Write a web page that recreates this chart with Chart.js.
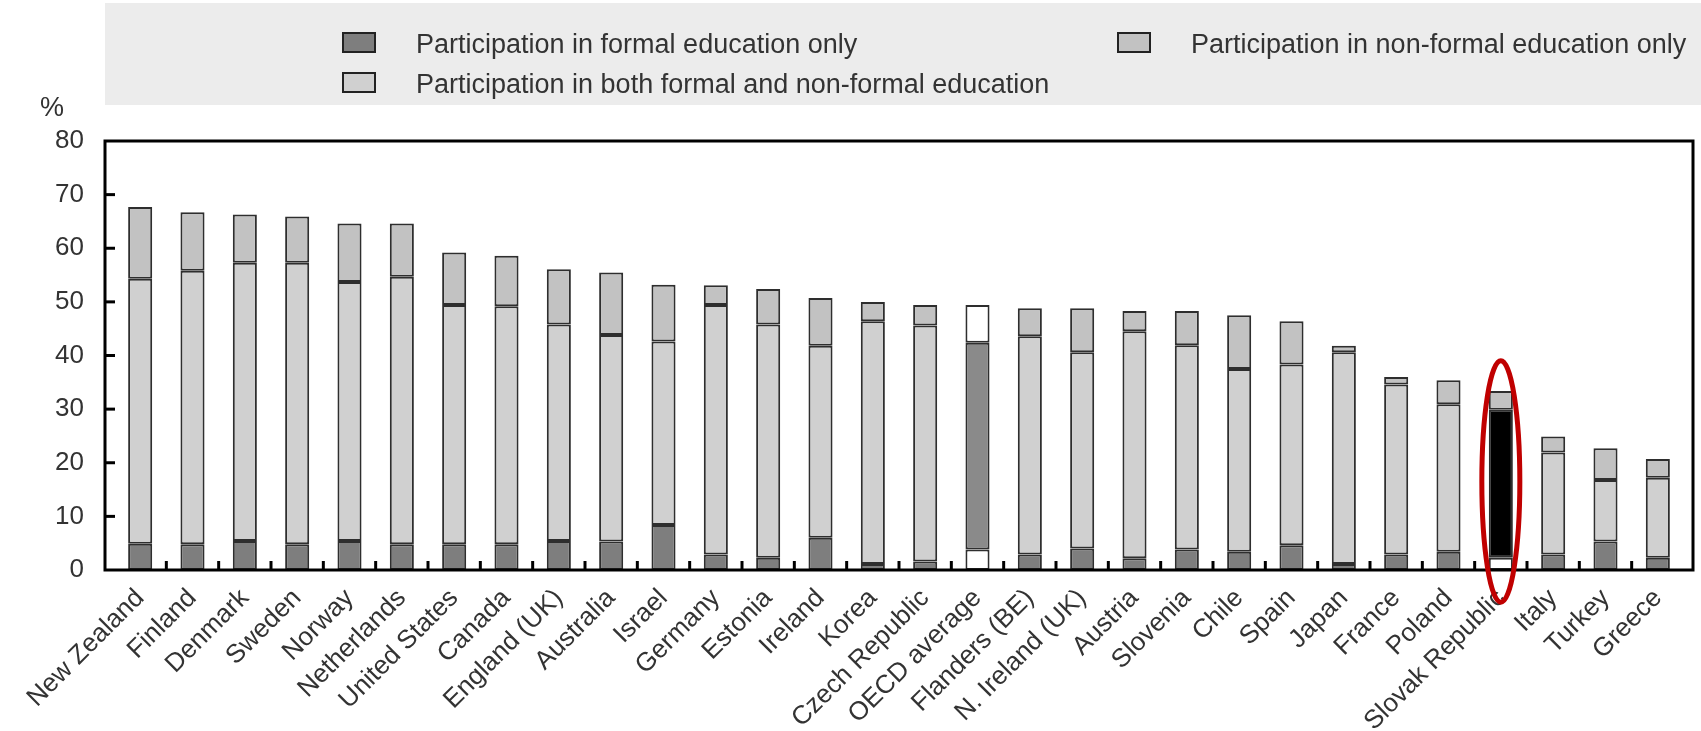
<!DOCTYPE html>
<html><head><meta charset="utf-8">
<script src="https://cdn.jsdelivr.net/npm/chart.js@4/dist/chart.umd.min.js"></script>
<style>html,body{margin:0;padding:0;background:#fff;}#wrap{position:relative;width:1701px;height:731px;}</style>
</head><body><div id="wrap"><canvas id="c" width="1701" height="731"></canvas></div>
<script>
const categories = ['New Zealand','Finland','Denmark','Sweden','Norway','Netherlands','United States','Canada','England (UK)','Australia','Israel','Germany','Estonia','Ireland','Korea','Czech Republic','OECD average','Flanders (BE)','N. Ireland (UK)','Austria','Slovenia','Chile','Spain','Japan','France','Poland','Slovak Republic','Italy','Turkey','Greece'];
const formalOnly = [4.9,4.8,5.4,4.8,5.4,4.8,4.8,4.8,5.4,5.3,8.4,2.9,2.3,6.0,1.1,1.6,3.8,2.9,4.0,2.2,3.8,3.4,4.6,1.1,2.9,3.4,2.3,2.9,5.3,2.3];
const bothFormalNonFormal = [49.4,51.0,51.9,52.5,48.3,49.9,44.6,44.4,40.4,38.5,34.2,46.5,43.5,35.8,45.3,44.0,38.6,40.7,36.6,42.3,38.1,34.1,33.7,39.5,31.7,27.5,27.6,19.0,11.5,14.9];
const nonFormalOnly = [13.4,10.9,9.0,8.6,10.9,9.9,9.8,9.4,10.3,11.7,10.6,3.7,6.6,8.9,3.6,3.8,7.0,5.2,8.2,3.8,6.4,10.0,8.1,1.2,1.4,4.5,3.5,3.0,5.9,3.5];
const seriesLabels = ['Participation in formal education only','Participation in both formal and non-formal education','Participation in non-formal education only'];
const yTicks = [0,10,20,30,40,50,60,70,80];
const highlighted = 'Slovak Republic';
const averageCat = 'OECD average';

const FONT = '"Liberation Sans", Arial, sans-serif';
const baseColors = ['#7e7e7e','#d0d0d0','#c2c2c2'];
const avgColors = ['#ffffff','#8a8a8a','#ffffff'];
const hlColors = ['#ffffff','#000000','#c2c2c2'];
function colorFor(ds){
  return ctx => {
    const cat = categories[ctx.dataIndex];
    if (cat === averageCat) return avgColors[ds];
    if (cat === highlighted) return hlColors[ds];
    return baseColors[ds];
  };
}
const seriesData = [formalOnly, bothFormalNonFormal, nonFormalOnly];
const datasets = seriesData.map((d,i)=>({
  label: seriesLabels[i], data: d,
  backgroundColor: colorFor(i), borderColor:'#2e2e2e', borderWidth:2, borderSkipped:false,
  barPercentage:0.46, categoryPercentage:1.0
}));

const PAD = 9;
const decor = {
  id:'decor',
  beforeDraw(chart){
    const c = chart.ctx;
    c.save();
    c.fillStyle = '#ececec';
    c.fillRect(105,3,1596,102);
    const items = [
      {x:343,y:33,ds:0},
      {x:1118,y:33,ds:2},
      {x:343,y:73,ds:1}
    ];
    c.font = '27px ' + FONT;
    c.textBaseline = 'middle';
    items.forEach(it=>{
      c.fillStyle = baseColors[it.ds];
      c.fillRect(it.x,it.y,32,19);
      c.strokeStyle = '#222'; c.lineWidth = 2;
      c.strokeRect(it.x,it.y,32,19);
      c.fillStyle = '#333';
      c.fillText(seriesLabels[it.ds], it.x+73, it.y+13);
    });
    c.font = '27px ' + FONT;
    c.textAlign = 'center';
    c.fillStyle = '#333';
    c.fillText('%', 52, 109);
    c.restore();
  },
  afterDatasetsDraw(chart){
    const c = chart.ctx, a = chart.chartArea;
    const ys = chart.scales.y, xs = chart.scales.x;
    c.save();
    c.strokeStyle = '#000'; c.lineWidth = 3;
    const L = a.left - PAD, R = a.right + PAD;
    c.strokeRect(L, a.top, R-L, a.bottom - a.top);
    yTicks.slice(1,-1).forEach(v=>{
      const y = ys.getPixelForValue(v);
      c.beginPath(); c.moveTo(L, y); c.lineTo(L+10, y); c.stroke();
    });
    const w = (a.right - a.left)/categories.length;
    for (let i=1;i<categories.length;i++){
      const x = a.left + i*w;
      c.beginPath(); c.moveTo(x, a.bottom); c.lineTo(x, a.bottom-9); c.stroke();
    }
    const hi = categories.indexOf(highlighted);
    const cx = xs.getPixelForValue(hi);
    const yTop = ys.getPixelForValue(39), yBot = ys.getPixelForValue(-6);
    c.strokeStyle = '#c00000'; c.lineWidth = 5;
    c.beginPath();
    c.ellipse(cx, (yTop+yBot)/2, 19, (yBot-yTop)/2, 0, 0, Math.PI*2);
    c.stroke();
    c.restore();
  }
};

new Chart(document.getElementById('c'), {
  type:'bar',
  data:{labels:categories, datasets},
  options:{
    responsive:false, animation:false,
    layout:{padding:{top:141,right:17,left:0,bottom:0}},
    plugins:{legend:{display:false}, tooltip:{enabled:false}},
    scales:{
      x:{stacked:true, grid:{display:false}, border:{display:false},
         ticks:{autoSkip:false, maxRotation:45, minRotation:45, padding:5, color:'#333', font:{family:FONT,size:26}},
         afterFit(s){ s.height = 161; }},
      y:{stacked:true, min:0, max:80, grid:{display:false, drawTicks:false}, border:{display:false},
         ticks:{stepSize:10, padding:30, color:'#333', font:{family:FONT,size:26}},
         afterFit(s){ s.width = 114; }}
    }
  },
  plugins:[decor]
});
</script></body></html>
